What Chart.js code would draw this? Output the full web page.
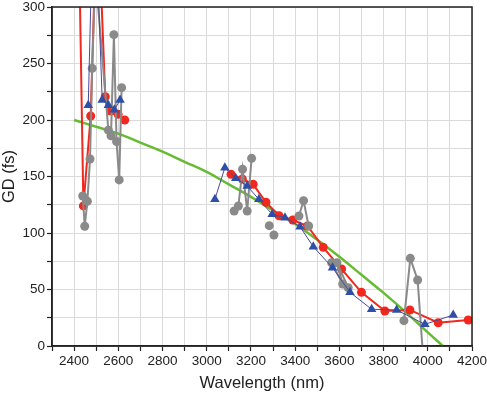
<!DOCTYPE html>
<html>
<head>
<meta charset="utf-8">
<script src="https://cdn.jsdelivr.net/npm/chart.js@4/dist/chart.umd.min.js"></script>
<style>
  html, body { margin: 0; padding: 0; background: #fff; }
  #wrap { width: 487px; height: 393px; position: relative; }
</style>
</head>
<body>
<div id="wrap"><canvas id="c"></canvas></div>
<script>
// ---- data ----
const xTicks = [2400, 2600, 2800, 3000, 3200, 3400, 3600, 3800, 4000, 4200];
const yTicks = [0, 50, 100, 150, 200, 250, 300];

// green fit curve
const greenWl = [2400, 2500, 2600, 2700, 2800, 2900, 3000, 3100, 3200, 3300, 3400, 3500, 3600, 3700, 3800, 3900, 4000, 4068];
const greenGd = [200, 194, 188, 180, 172, 163, 154, 143, 132, 120, 108, 94, 79, 63, 47, 30, 12, 0];

// red circles (null = gap)
const redWl = [2420, 2442, 2475, 2505, 2541, 2567, 2599, 2629, 2870, 3110, 3161, 3210, 3268, 3327, 3389, 3456, 3527, 3610, 3700, 3806, 3919, 4047, 4183];
const redGd = [380, 124, 203.5, 400, 220.6, 208, 205, 200, null, 152, 147.8, 143.1, 127.2, 115.3, 111.5, 106.2, 87.3, 68.1, 47.5, 31, 31.9, 20.6, 23];

// blue triangles
const blueWl = [2464, 2490, 2527, 2555, 2582, 2608, 2820, 3037, 3082, 3131, 3183, 3236, 3296, 3354, 3422, 3482, 3569, 3648, 3746, 3859, 3987, 4115];
const blueGd = [213, 420, 217.7, 213, 209, 217.7, null, 129.8, 157.8, 148.4, 141.6, 129.8, 116.5, 113.6, 105.6, 87.9, 69.3, 47.5, 32.5, 31.9, 19.2, 27.4];

// grey circles
const greyWl = [2439, 2448, 2460, 2472, 2482, 2496, 2555, 2567, 2580, 2592, 2604, 2615, 2870,
                3124, 3143, 3162, 3183, 3203, 3240, 3283, 3294, 3304, 3360,
                3417, 3438, 3461, 3510,
                3565, 3615, 3589, 3640, 3760,
                3892, 3921, 3954, 3990];
const greyGd = [132.7, 106, 128, 165.5, 245.7, 330, 191, 186, 275.5, 181, 147, 228.6, null,
                119.5, 123.9, 156.4, 119.5, 166.1, null, 106.5, null, 98.2, null,
                115, 128.6, 106.2, null,
                73.7, 54.9, 73.7, 51.6, null,
                22.4, 77.6, 58.4, -40];

const pts = (xs, ys) => xs.map((x, i) => ({ x: x, y: ys[i] }));

const frame = {
  id: 'frame',
  afterDatasetsDraw(chart) {
    const a = chart.chartArea, ctx = chart.ctx;
    ctx.save();
    ctx.strokeStyle = '#222';
    ctx.lineWidth = 1.5;
    ctx.strokeRect(a.left, a.top, a.right - a.left, a.bottom - a.top);
    ctx.restore();
  }
};

new Chart(document.getElementById('c'), {
  type: 'line',
  data: {
    datasets: [
      {
        label: 'blue', data: pts(blueWl, blueGd),
        borderColor: '#4a4a9c', borderWidth: 1, backgroundColor: '#2f4ea6',
        pointStyle: 'triangle', pointRadius: 5.5, pointBorderWidth: 0,
        pointBackgroundColor: '#2f4ea6', spanGaps: false, tension: 0
      },
      {
        label: 'grey', data: pts(greyWl, greyGd),
        borderColor: '#8a8a8a', borderWidth: 2, backgroundColor: '#8a8a8a',
        pointStyle: 'circle', pointRadius: 4.5, pointBorderWidth: 0,
        pointBackgroundColor: '#8a8a8a', spanGaps: false, tension: 0
      },
      {
        label: 'red', data: pts(redWl, redGd),
        borderColor: '#f0281e', borderWidth: 2, backgroundColor: '#f0281e',
        pointStyle: 'circle', pointRadius: 4.5, pointBorderWidth: 0,
        pointBackgroundColor: '#f0281e', spanGaps: false, tension: 0
      },
      {
        label: 'green', data: pts(greenWl, greenGd),
        borderColor: '#66bb33', borderWidth: 2.5, pointRadius: 0,
        tension: 0.4, fill: false
      }
    ]
  },
  options: {
    responsive: true,
    maintainAspectRatio: false,
    animation: false,
    devicePixelRatio: 1,
    layout: { padding: { top: 0, right: 0, left: 0, bottom: 0 } },
    plugins: { legend: { display: false }, tooltip: { enabled: false } },
    scales: {
      x: {
        type: 'linear', min: 2300, max: 4200,
        afterFit(s) { s.height = 47; s.paddingLeft = 0; s.paddingRight = 15; },
        ticks: {
          stepSize: 100, autoSkip: false, maxRotation: 0, padding: 2,
          color: '#222', font: { family: 'Liberation Sans, Arial, sans-serif', size: 13.5 },
          callback: v => (xTicks.includes(v) ? String(v) : '')
        },
        grid: { color: '#dadada', lineWidth: 1, tickColor: '#222', tickLength: 5, tickWidth: 1.2 },
        border: { color: '#222', width: 1.5 },
        title: {
          display: true, text: 'Wavelength (nm)', color: '#222',
          font: { family: 'Liberation Sans, Arial, sans-serif', size: 16.5 },
          padding: { top: 0, bottom: 0 }
        }
      },
      y: {
        type: 'linear', min: 0, max: 300,
        afterFit(s) { s.width = 52; s.paddingTop = 7; s.paddingBottom = 0; },
        ticks: {
          stepSize: 25, autoSkip: false, padding: 2,
          color: '#222', font: { family: 'Liberation Sans, Arial, sans-serif', size: 13.5 },
          callback: v => (yTicks.includes(v) ? String(v) : '')
        },
        grid: { color: '#dadada', lineWidth: 1, tickColor: '#222', tickLength: 5, tickWidth: 1.2 },
        border: { color: '#222', width: 1.5 },
        title: {
          display: true, text: 'GD (fs)', color: '#222',
          font: { family: 'Liberation Sans, Arial, sans-serif', size: 16.5 },
          padding: { top: 0, bottom: 0 }
        }
      }
    }
  },
  plugins: [frame]
});
</script>
</body>
</html>
